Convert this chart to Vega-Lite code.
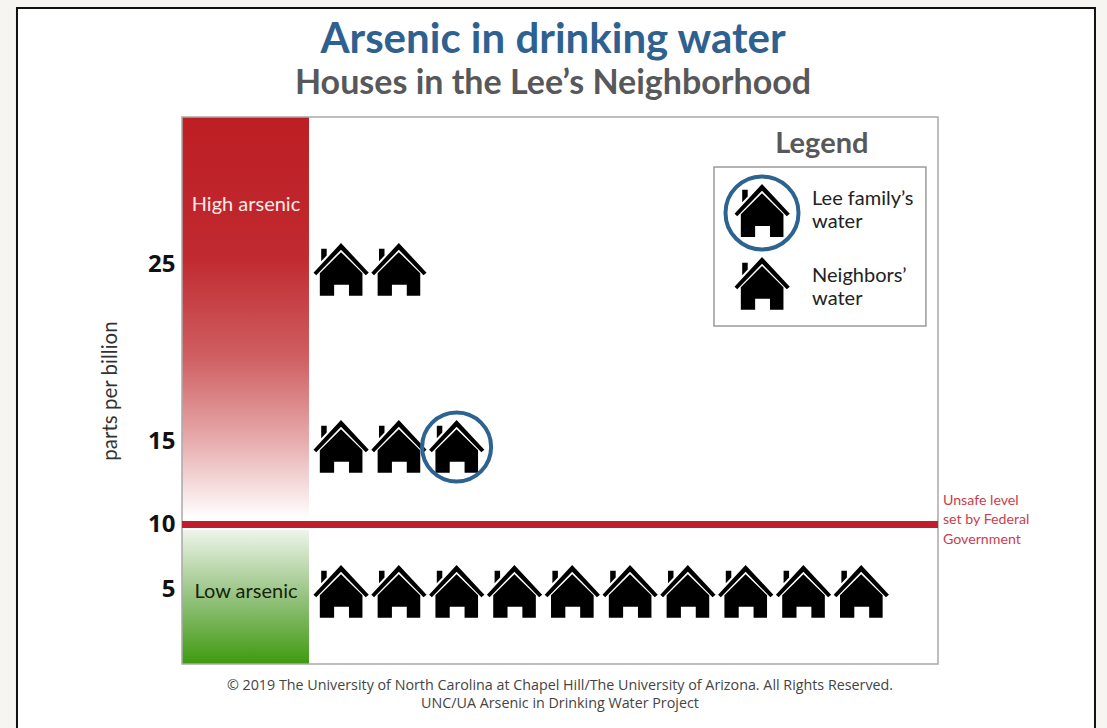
{
"$schema":"https://vega.github.io/schema/vega-lite/v6.json",
"width":756,"height":547,
"autosize":"none",
"padding":{"left":182,"top":117,"right":169,"bottom":64},
"background":"#f6f5f1",
"config":{"view":{"stroke":null}},
"title":{"text":"Arsenic in drinking water","subtitle":"Houses in the Lee’s Neighborhood","anchor":"middle","frame":"group","dx":-7,"offset":-95,
"font":"Lato","fontWeight":"bold","fontSize":42,"color":"#2f6190","subtitleFont":"Lato","subtitleFontWeight":"bold","subtitleFontSize":34,"subtitleColor":"#58585a","subtitlePadding":5},
"encoding":{
"x":{"field":"i","type":"quantitative","scale":{"domain":[-1.751,11.329],"range":[0,756],"nice":false,"zero":false},"axis":null},
"y":{"field":"ppb","type":"quantitative","scale":{"domain":[0,5,10,15,25,33.64],"range":[547,475,407.5,330,153,0],"nice":false,"zero":false},
"axis":{"zindex":1,"values":[5,10,15,25],"grid":false,"domain":false,"ticks":false,"labelPadding":7,"labelFont":"Open Sans","labelFontWeight":"bold","labelFontSize":24,"labelColor":"#111111","labelOffset":{"expr":"datum.value==10?0:datum.value==5?-3:-6"},
"title":"parts per billion","titleFont":"Lato","titleFontWeight":"normal","titleFontSize":20.5,"titleColor":"#333333","titleX":-72,"titleY":273.5,"titleBaseline":"middle"}}
},
"layer":[
{"data":{"values":[{"i":-4.606,"i2":14.045,"ppb":39.8,"ppb2":-6}]},
 "mark":{"type":"rect","fill":"#ffffff","stroke":"#111111","strokeWidth":2},
 "encoding":{"x2":{"field":"i2"},"y2":{"field":"ppb2"}}},
{"data":{"values":[{"band":"High arsenic","i":-1.751,"i2":0.446,"ppb":33.64,"ppb2":10.4}]},
 "mark":{"type":"rect","fill":{"gradient":"linear","x1":0,"y1":0,"x2":0,"y2":1,"stops":[{"offset":0,"color":"#bd1e24"},{"offset":0.35,"color":"#c02a30"},{"offset":0.6,"color":"#cf5f62"},{"offset":0.8,"color":"#e6a9aa"},{"offset":1,"color":"#ffffff"}]}},
 "encoding":{"x2":{"field":"i2"},"y2":{"field":"ppb2"}}},
{"data":{"values":[{"band":"Low arsenic","i":-1.751,"i2":0.446,"ppb":9.6,"ppb2":0}]},
 "mark":{"type":"rect","fill":{"gradient":"linear","x1":0,"y1":0,"x2":0,"y2":1,"stops":[{"offset":0,"color":"#eef5ea"},{"offset":0.5,"color":"#95c27f"},{"offset":1,"color":"#3f9a0f"}]}},
 "encoding":{"x2":{"field":"i2"},"y2":{"field":"ppb2"}}},
{"data":{"values":[{"i":-1.751,"i2":11.329,"ppb":33.64,"ppb2":0}]},
 "mark":{"type":"rect","fill":null,"stroke":"#a9a9a9","strokeWidth":1.5},
 "encoding":{"x2":{"field":"i2"},"y2":{"field":"ppb2"}}},
{"data":{"values":[{"i":-1.751,"i2":11.329,"ppb":10}]},
 "mark":{"type":"rule","color":"#bf1e2d","strokeWidth":7},
 "encoding":{"x2":{"field":"i2"}}},
{"data":{"name":"houses","values":[
 {"i":1,"ppb":25},{"i":2,"ppb":25},
 {"i":1,"ppb":15},{"i":2,"ppb":15},{"i":3,"ppb":15},
 {"i":1,"ppb":5},{"i":2,"ppb":5},{"i":3,"ppb":5},{"i":4,"ppb":5},{"i":5,"ppb":5},{"i":6,"ppb":5},{"i":7,"ppb":5},{"i":8,"ppb":5},{"i":9,"ppb":5},{"i":10,"ppb":5},
 {"i":8.284,"ppb":28.33},{"i":8.284,"ppb":24.21}]},
 "mark":{"type":"point","filled":true,"fill":"#000000","stroke":null,"opacity":1,"size":3025,
 "shape":"M0,-0.98L1.01,0.1L0.9,0.19L0,-0.74L-0.9,0.19L-1,0.1ZM-0.72,-0.77L-0.52,-0.77L-0.52,-0.53L-0.72,-0.32ZM0,-0.65L0.78,0.12L0.78,0.94L0.29,0.94L0.29,0.54L-0.25,0.54L-0.25,0.94L-0.77,0.94L-0.77,0.12Z"}},
{"data":{"values":[{"i":3,"ppb":15}]},
 "mark":{"type":"point","shape":"circle","filled":false,"stroke":"#2c6390","strokeWidth":4,"opacity":1,"size":4761}},
{"data":{"values":[{"i":8.284,"ppb":28.22}]},
 "mark":{"type":"point","shape":"circle","filled":false,"stroke":"#2c6390","strokeWidth":4,"opacity":1,"size":5329}},
{"data":{"values":[{"i":7.453,"i2":11.12,"ppb":30.82,"ppb2":21.84}]},
 "mark":{"type":"rect","fill":null,"stroke":"#9a9a9a","strokeWidth":1.5},
 "encoding":{"x2":{"field":"i2"},"y2":{"field":"ppb2"}}},
{"data":{"values":[{"t":"Legend","i":9.32,"ppb":32.12}]},
 "mark":{"type":"text","font":"Lato","fontWeight":"bold","fontSize":29,"color":"#58585a","baseline":"middle"},
 "encoding":{"text":{"field":"t"}}},
{"data":{"values":[{"t":"Lee family’s\nwater","i":9.15,"ppb":29.01},{"t":"Neighbors’\nwater","i":9.15,"ppb":24.66}]},
 "mark":{"type":"text","font":"Lato","fontSize":20,"color":"#222222","align":"left","baseline":"middle","lineBreak":"\n","lineHeight":23},
 "encoding":{"text":{"field":"t"}}},
{"data":{"values":[{"t":"High arsenic","i":-0.644,"ppb":28.67}]},
 "mark":{"type":"text","font":"Lato","fontSize":20,"color":"#fbeaea","baseline":"middle"},
 "encoding":{"text":{"field":"t"}}},
{"data":{"values":[{"t":"Low arsenic","i":-0.644,"ppb":5}]},
 "mark":{"type":"text","font":"Lato","fontSize":20,"color":"#14240c","baseline":"middle"},
 "encoding":{"text":{"field":"t"}}},
{"data":{"values":[{"t":"Unsafe level\nset by Federal\nGovernment","i":11.415,"ppb":11.52}]},
 "mark":{"type":"text","font":"Lato","fontSize":14.2,"color":"#c8404f","align":"left","baseline":"middle","lineBreak":"\n","lineHeight":19.5},
 "encoding":{"text":{"field":"t"}}},
{"data":{"values":[{"t":"© 2019 The University of North Carolina at Chapel Hill/The University of Arizona. All Rights Reserved.\nUNC/UA Arsenic in Drinking Water Project","i":4.789,"ppb":-1.53}]},
 "mark":{"type":"text","font":"Open Sans","fontSize":14.3,"color":"#444444","baseline":"middle","lineBreak":"\n","lineHeight":18},
 "encoding":{"text":{"field":"t"}}}
]
}
